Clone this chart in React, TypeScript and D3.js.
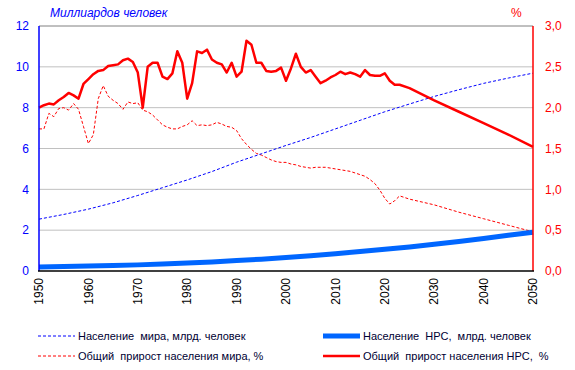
import React from "react";
import * as d3 from "d3";

const popYears = [1950,1955,1960,1965,1970,1975,1980,1985,1990,1995,2000,2005,2010,2015,2020,2025,2030,2035,2040,2045,2050];
const worldPop = [2.54,2.77,3.03,3.34,3.70,4.08,4.46,4.87,5.33,5.74,6.15,6.54,6.96,7.38,7.80,8.18,8.55,8.88,9.19,9.45,9.69];
const ldcPop = [0.20,0.22,0.24,0.27,0.30,0.34,0.39,0.44,0.51,0.58,0.66,0.75,0.85,0.95,1.06,1.18,1.31,1.45,1.59,1.75,1.90];

const ldcGrowthYears = [
  1950,1951,1952,1953,1954,1955,1956,1957,1958,1959,1960,1961,1962,1963,1964,1965,1966,1967,1968,1969,
  1970,1971,1972,1973,1974,1975,1976,1977,1978,1979,1980,1981,1982,1983,1984,1985,1986,1987,1988,1989,
  1990,1991,1992,1993,1994,1995,1996,1997,1998,1999,2000,2001,2002,2003,2004,2005,2006,2007,2008,2009,
  2010,2011,2012,2013,2014,2015,2016,2017,2018,2019,2020,2021,2022,2023,2025,2030,2035,2040,2045,2050];
const ldcGrowth = [
  2.00,2.03,2.05,2.04,2.09,2.13,2.18,2.15,2.11,2.29,2.35,2.41,2.45,2.46,2.51,2.52,2.53,2.58,2.60,2.56,
  2.43,2.00,2.50,2.55,2.55,2.38,2.35,2.42,2.69,2.55,2.11,2.30,2.69,2.67,2.71,2.59,2.55,2.53,2.43,2.55,
  2.38,2.44,2.82,2.77,2.55,2.55,2.45,2.44,2.45,2.49,2.33,2.48,2.66,2.50,2.43,2.46,2.38,2.30,2.33,2.37,
  2.40,2.44,2.41,2.43,2.41,2.38,2.46,2.40,2.39,2.39,2.42,2.33,2.28,2.28,2.24,2.09,1.95,1.81,1.67,1.52];

const worldGrowthYears = [
  1950,1951,1952,1953,1954,1955,1956,1957,1958,1959,1960,1961,1962,1963,1964,1965,1966,1967,1968,1969,
  1970,1971,1972,1973,1974,1975,1976,1977,1978,1979,1980,1981,1982,1983,1984,1985,1986,1987,1988,1989,
  1990,1991,1992,1993,1994,1995,1996,1997,1998,1999,2000,2001,2002,2003,2004,2005,2006,2007,2008,2009,
  2010,2011,2012,2013,2014,2015,2016,2017,2018,2019,2020,2021,2022,2023,2025,2030,2035,2040,2045,2050];
const worldGrowth = [
  1.74,1.74,1.93,1.89,1.99,2.00,1.97,2.05,1.98,1.77,1.56,1.67,2.11,2.27,2.14,2.09,2.05,1.98,2.07,2.05,
  2.06,1.97,1.95,1.91,1.85,1.79,1.76,1.74,1.74,1.77,1.79,1.84,1.78,1.79,1.78,1.79,1.82,1.80,1.77,1.76,
  1.72,1.62,1.55,1.49,1.44,1.42,1.39,1.36,1.34,1.33,1.33,1.31,1.30,1.28,1.27,1.26,1.27,1.27,1.27,1.26,
  1.25,1.24,1.23,1.22,1.20,1.18,1.16,1.12,1.07,0.99,0.89,0.82,0.86,0.92,0.88,0.81,0.72,0.64,0.56,0.48];

const xTicks = [1950,1960,1970,1980,1990,2000,2010,2020,2030,2040,2050];
const leftTicks = [0,2,4,6,8,10,12];
const rightTicks = [0,0.5,1,1.5,2,2.5,3];

const legendItems = [
  { label: "Население  мира, млрд. человек", col: 0, row: 0, color: "#0000ff", width: 1, dash: "3,2" },
  { label: "Население  НРС,  млрд. человек", col: 1, row: 0, color: "#0066ff", width: 5, dash: null },
  { label: "Общий  прирост населения мира, %", col: 0, row: 1, color: "#ff0000", width: 1, dash: "3,2" },
  { label: "Общий  прирост населения НРС,  %", col: 1, row: 1, color: "#ff0000", width: 2.5, dash: null },
];

export default function App() {
  const W = 575, H = 370;
  const L = 39, R = 533, T = 26, B = 271;
  const x = d3.scaleLinear().domain([1950, 2050]).range([L, R]);
  const yL = d3.scaleLinear().domain([0, 12]).range([B, T]);
  const yR = d3.scaleLinear().domain([0, 3]).range([B, T]);
  const font = "Arial, 'Liberation Sans', sans-serif";

  const lineL = d3.line<[number, number]>().x(d => x(d[0])).y(d => yL(d[1]));
  const lineR = d3.line<[number, number]>().x(d => x(d[0])).y(d => yR(d[1]));

  const worldPopPts = popYears.map((y, i) => [y, worldPop[i]] as [number, number]);
  const ldcPopPts = popYears.map((y, i) => [y, ldcPop[i]] as [number, number]);
  const ldcGPts = ldcGrowthYears.map((y, i) => [y, ldcGrowth[i]] as [number, number]);
  const worldGPts = worldGrowthYears.map((y, i) => [y, worldGrowth[i]] as [number, number]);

  const legX = [38, 323];
  const legY = [336, 356];

  return (
    <svg width={W} height={H} style={{ position: "absolute", left: 0, top: 0, background: "#fff" }} fontFamily={font}>
      {/* grid */}
      {leftTicks.filter(t => t > 0).map(t => (
        <line key={t} x1={L} x2={R} y1={yL(t)} y2={yL(t)} stroke={t === 12 ? "#808080" : "#c0c0c0"} strokeWidth={1} />
      ))}
      {/* series */}
      <path d={lineR(worldGPts) || ""} fill="none" stroke="#ff0000" strokeWidth={1} strokeDasharray="3,2" />
      <path d={lineL(worldPopPts) || ""} fill="none" stroke="#0000ff" strokeWidth={1} strokeDasharray="3,2" />
      <path d={lineL(ldcPopPts) || ""} fill="none" stroke="#0066ff" strokeWidth={5} />
      <path d={lineR(ldcGPts) || ""} fill="none" stroke="#ff0000" strokeWidth={2.5} strokeLinejoin="round" />
      {/* axes */}
      <line x1={L} x2={L} y1={T} y2={B} stroke="#0000ff" strokeWidth={1.5} />
      <line x1={R} x2={R} y1={T} y2={B} stroke="#ff0000" strokeWidth={1.5} />
      <line x1={L - 1} x2={R + 1} y1={B} y2={B} stroke="#000" strokeWidth={1.5} />
      {leftTicks.map(t => (
        <text key={t} x={29} y={yL(t)} dy="0.35em" textAnchor="end" fontSize={12} fill="#0000ff">{t}</text>
      ))}
      {rightTicks.map(t => (
        <text key={t} x={545} y={yR(t)} dy="0.35em" textAnchor="start" fontSize={12} fill="#ff0000">{d3.format(".1f")(t).replace(".", ",")}</text>
      ))}
      {xTicks.map(t => (
        <text key={t} transform={`translate(${x(t)},${B + 7}) rotate(-90)`} dy="0.35em" textAnchor="end" fontSize={12} fill="#000">{t}</text>
      ))}
      <text x={50} y={17} fontSize={12} fontStyle="italic" fill="#0000ff">Миллиардов человек</text>
      <text x={511} y={17} fontSize={12} fill="#ff0000">%</text>
      {/* legend */}
      {legendItems.map(it => (
        <g key={it.label}>
          <line x1={legX[it.col]} x2={legX[it.col] + 37} y1={legY[it.row]} y2={legY[it.row]} stroke={it.color} strokeWidth={it.width} strokeDasharray={it.dash || undefined} />
          <text x={legX[it.col] + 40} y={legY[it.row]} dy="0.35em" fontSize={11} fill="#000033" style={{ whiteSpace: "pre" }}>{it.label}</text>
        </g>
      ))}
    </svg>
  );
}
